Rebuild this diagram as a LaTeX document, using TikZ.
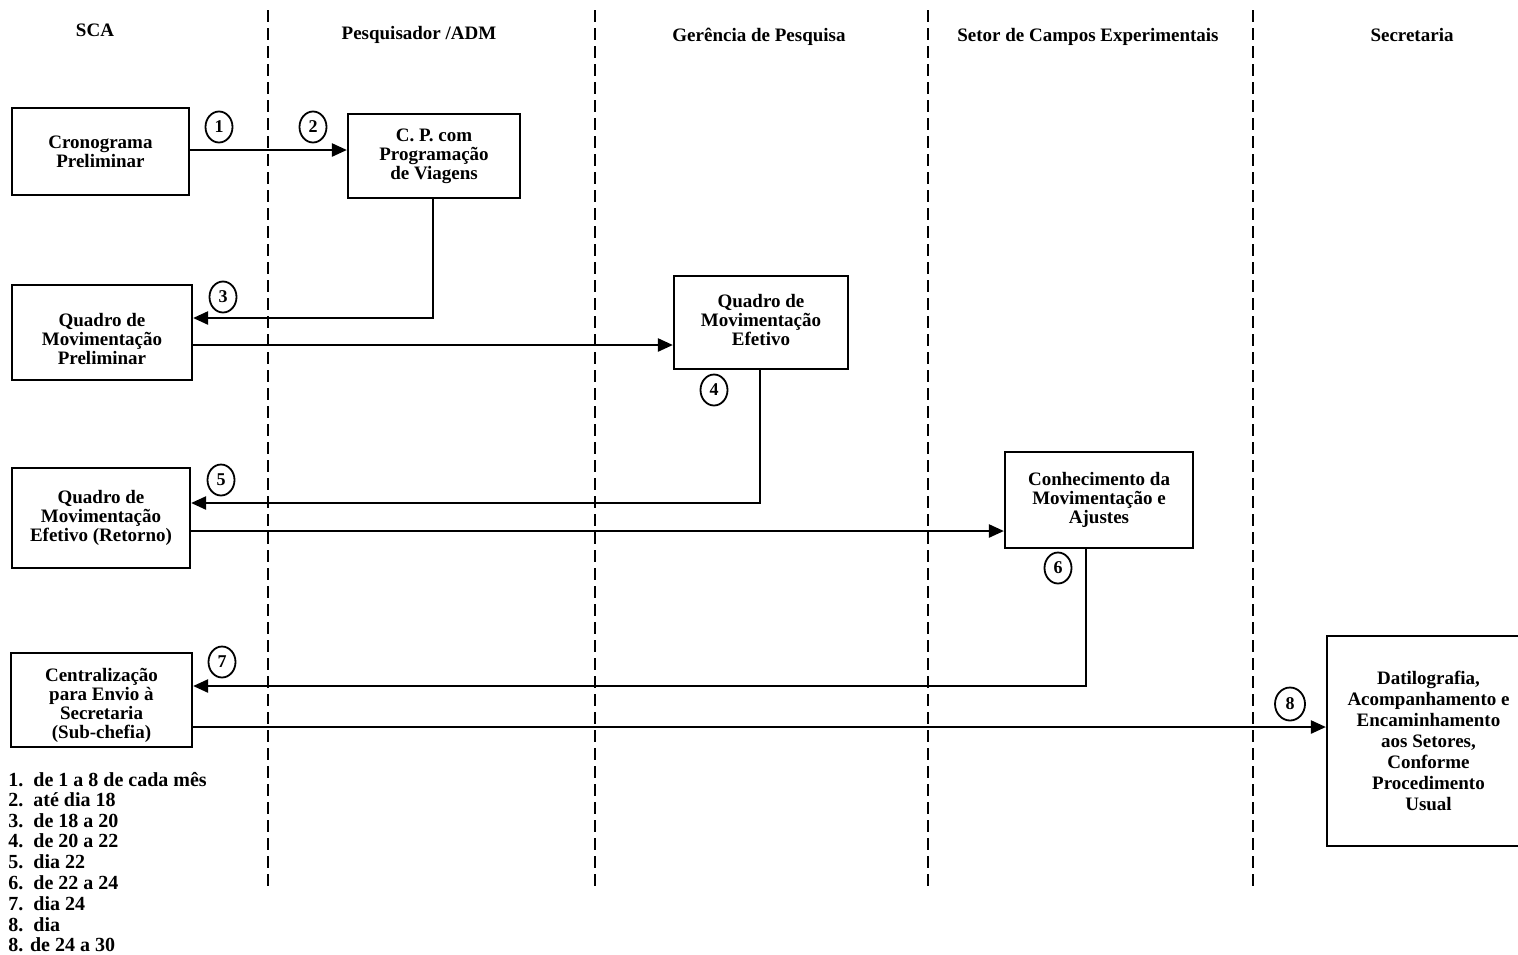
\documentclass[tikz,border=0pt]{standalone}
\usepackage{fontspec}
\setmainfont{Liberation Serif}
\usetikzlibrary{arrows.meta,calc,shapes.geometric}
\begin{document}
\begin{tikzpicture}[x=0.5pt,y=-0.5pt,
  box/.style={draw, line width=1.1pt, inner sep=0pt, align=center,
    font=\fontsize{9.5}{9.5}\selectfont\bfseries},
  txt/.style={inner sep=0pt, align=center, font=\fontsize{9.5}{9.5}\selectfont\bfseries},
  conn/.style={line width=1.2pt},
  arr/.style={conn, -{Triangle[length=7.5pt,width=6.5pt]}},
  num/.style={draw, ellipse, line width=0.9pt, inner sep=0pt, minimum width=13.5pt,
    minimum height=15.5pt, font=\fontsize{9}{9}\selectfont\bfseries},
  lane/.style={line width=0.8pt, dash pattern=on 6pt off 3pt},
  head/.style={font=\fontsize{9.5}{10}\selectfont\bfseries},
  leg/.style={anchor=west, inner sep=0pt, font=\fontsize{10}{10}\selectfont\bfseries}
]
\useasboundingbox (0,0) rectangle (1518,954);
\clip (0,0) rectangle (1518,954);

% lanes
\foreach \x/\n in {268/l1,595/l2,928/l3,1253/l4} {
  \coordinate (\n t) at (\x,10);
  \coordinate (\n b) at (\x,888);
  \draw[lane] (\n t) -- (\n b);
}

% headers
\node[head] (h1) at (95,30) {SCA};
\node[head] (h2) at (419,35) {Pesquisador /ADM};
\node[head] (h3) at (759,37) {Gerência de Pesquisa};
\node[head] (h4) at (1088,37) {Setor de Campos Experimentais};
\node[head] (h5) at (1412,35) {Secretaria};

% boxes
\node[box, minimum width=88.5pt, minimum height=43.5pt] (b1) at (100.5,151.5) {Cronograma\\Preliminar};
\node[box, minimum width=86pt, minimum height=42pt] (b2) at (434,156) {C. P. com\\Programação\\de Viagens};
\node[box, minimum width=90pt, minimum height=47.5pt] (b3) at (102,332.5) {};
\node[txt] (t3) at (102,339) {Quadro de\\Movimentação\\Preliminar};
\node[box, minimum width=87pt, minimum height=46.5pt] (b4) at (761,322.5) {};
\node[txt] (t4) at (761,320) {Quadro de\\Movimentação\\Efetivo};
\node[box, minimum width=89pt, minimum height=50pt] (b5) at (101,518) {Quadro de\\Movimentação\\Efetivo (Retorno)};
\node[box, minimum width=94pt, minimum height=48pt] (b6) at (1099,500) {Conhecimento da\\Movimentação e\\Ajustes};
\node[box, minimum width=90.5pt, minimum height=47pt] (b7) at (101.5,700) {};
\node[txt] (t7) at (101.5,705) {Centralização\\para Envio à\\Secretaria\\(Sub-chefia)};
\node[box, minimum width=101.5pt, minimum height=105pt,
  font=\fontsize{9.5}{10.5}\selectfont\bfseries] (b8) at (1428.5,741)
  {Datilografia,\\Acompanhamento e\\Encaminhamento\\aos Setores,\\Conforme\\Procedimento\\Usual};

% connectors
\draw[arr] (b1.east |- 0,150) -- (b2.west |- 0,150);
\draw[arr] ($(b2.south)+(-1,0)$) |- ($(b3.east)+(0,-14.5)$);
\draw[arr] ($(b3.east)+(0,12.5)$) -- (b4.west |- 0,345);
\draw[arr] ($(b4.south)+(-1,0)$) |- ($(b5.east)+(0,-15)$);
\draw[arr] ($(b5.east)+(0,13)$) -- (b6.west |- 0,531);
\draw[arr] ($(b6.south)+(-13,0)$) |- ($(b7.east)+(0,-14)$);
\draw[arr] ($(b7.east)+(0,27)$) -- (b8.west |- 0,727);

% step numbers
\node[num] (c1) at (219,127) {1};
\node[num] (c2) at (313,127) {2};
\node[num] (c3) at (223,297) {3};
\node[num] (c4) at (714,390) {4};
\node[num] (c5) at (221,480) {5};
\node[num] (c6) at (1058,568) {6};
\node[num] (c7) at (222,662) {7};
\node[num, minimum width=15pt, minimum height=16.5pt] (c8) at (1290,704) {8};

% legend
\node[leg] (g1) at (8,780) {1.\ \ de 1 a 8 de cada mês};
\node[leg] (g2) at (8,800) {2.\ \ até dia 18};
\node[leg] (g3) at (8,821) {3.\ \ de 18 a 20};
\node[leg] (g4) at (8,841) {4.\ \ de 20 a 22};
\node[leg] (g5) at (8,862) {5.\ \ dia 22};
\node[leg] (g6) at (8,883) {6.\ \ de 22 a 24};
\node[leg] (g7) at (8,904) {7.\ \ dia 24};
\node[leg] (g8) at (8,925) {8.\ \ dia};
\node[leg] (g9) at (8,945) {8. de 24 a 30};
\end{tikzpicture}
\end{document}
